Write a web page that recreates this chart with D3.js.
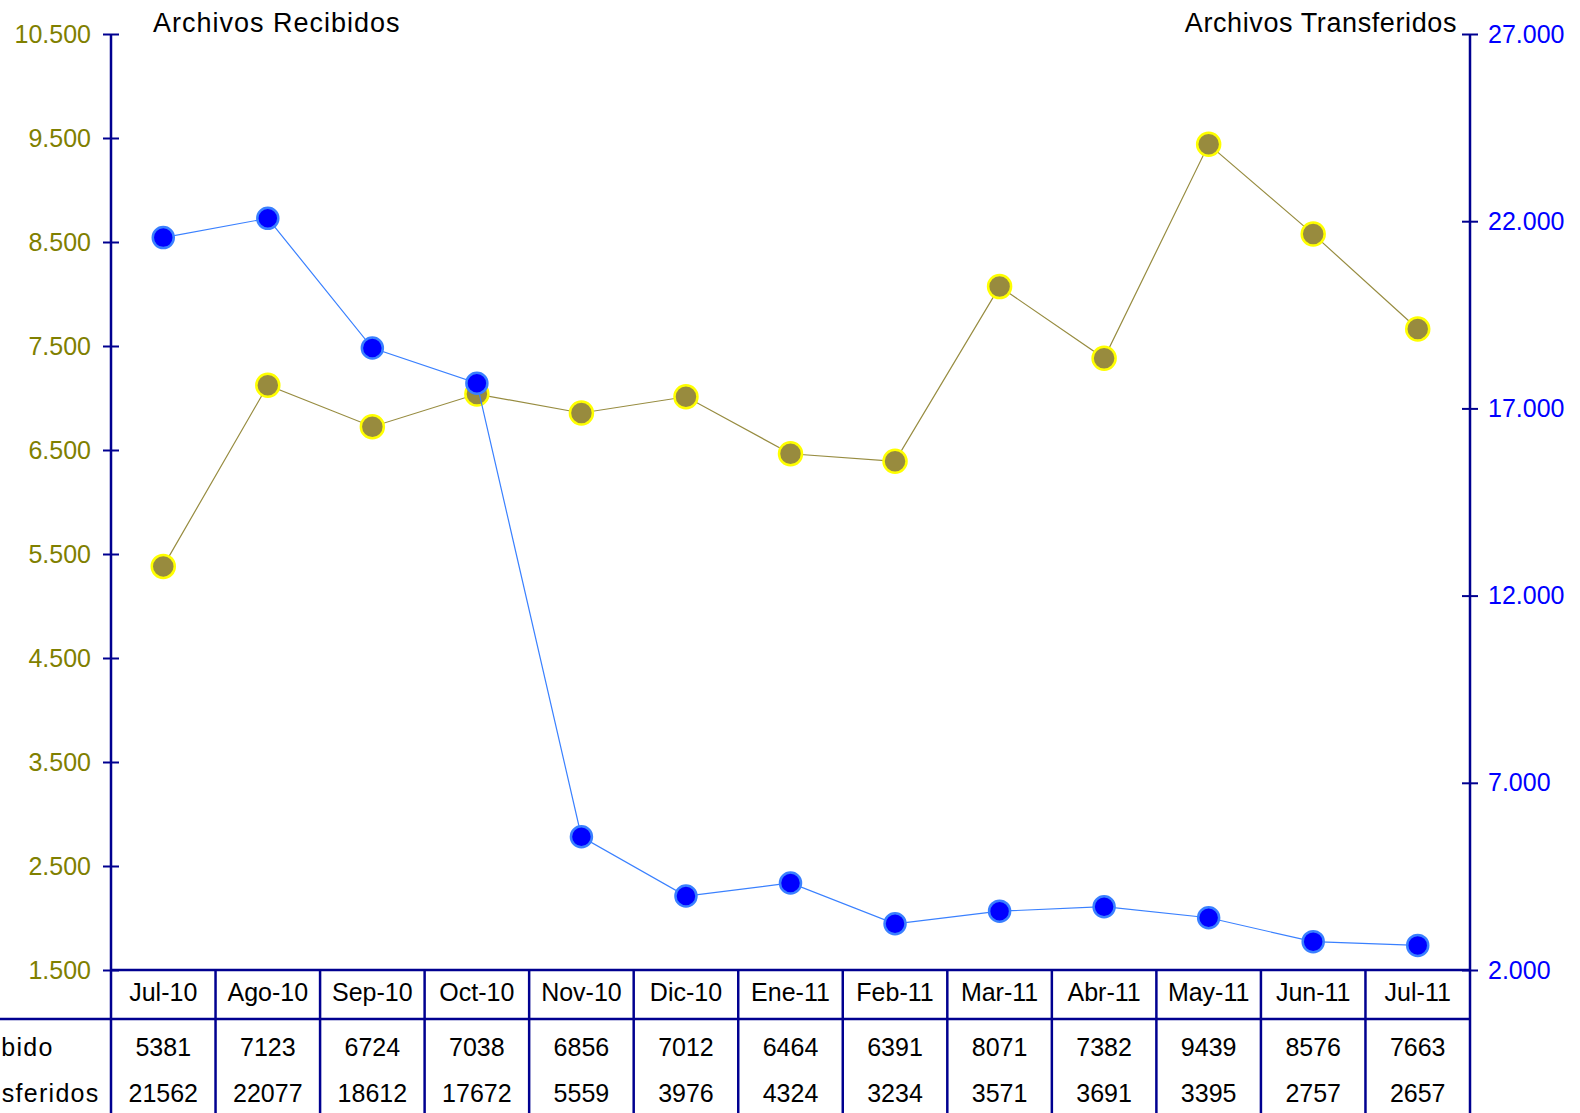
<!DOCTYPE html>
<html>
<head>
<meta charset="utf-8">
<script src="https://cdn.jsdelivr.net/npm/d3@7"></script>
<style>
  body { margin: 0; background: #fff; }
  svg { display: block; font-family: "Liberation Sans", Arial, sans-serif; }
</style>
</head>
<body>
<svg width="1580" height="1113"></svg>
<script>
var svg = d3.select('svg');

const meses = ['Jul-10', 'Ago-10', 'Sep-10', 'Oct-10', 'Nov-10', 'Dic-10', 'Ene-11',
  'Feb-11', 'Mar-11', 'Abr-11', 'May-11', 'Jun-11', 'Jul-11'];
const recibidos = [5381, 7123, 6724, 7038, 6856, 7012, 6464, 6391, 8071, 7382, 9439, 8576, 7663];
const transferidos = [21562, 22077, 18612, 17672, 5559, 3976, 4324, 3234, 3571, 3691, 3395, 2757, 2657];
const ticksIzq = [1500, 2500, 3500, 4500, 5500, 6500, 7500, 8500, 9500, 10500];
const ticksDer = [2000, 7000, 12000, 17000, 22000, 27000];
const filas = ['Recibido', 'Transferidos'];

const axisColor = '#000090';
const xLeft = 111, xRight = 1470, yTop = 34, yBottom = 970;

const fmt = d => d3.format(',')(d).replace(/,/g, '.');

const x = d3.scaleBand().domain(meses).range([xLeft, xRight]);
const yL = d3.scaleLinear().domain([1500, 10500]).range([yBottom, yTop]);
const yR = d3.scaleLinear().domain([2000, 27000]).range([yBottom, yTop]);

// left axis
const gl = svg.append('g').attr('transform', `translate(${xLeft},0)`)
  .call(d3.axisLeft(yL).tickValues(ticksIzq).tickFormat(fmt).tickSize(0).tickPadding(20));
gl.select('.domain').remove();
gl.selectAll('text').attr('fill', '#808000').style('font-size', '25px').attr('font-family', null);
gl.selectAll('.tick').append('line').attr('x1', -8).attr('x2', 8)
  .attr('stroke', axisColor).attr('stroke-width', 2);
svg.append('line').attr('x1', xLeft).attr('x2', xLeft).attr('y1', yTop).attr('y2', 1113)
  .attr('stroke', axisColor).attr('stroke-width', 2.5);

// right axis
const gr = svg.append('g').attr('transform', `translate(${xRight},0)`)
  .call(d3.axisRight(yR).tickValues(ticksDer).tickFormat(fmt).tickSize(0).tickPadding(18));
gr.select('.domain').remove();
gr.selectAll('text').attr('fill', '#0000ff').style('font-size', '25px').attr('font-family', null);
gr.selectAll('.tick').append('line').attr('x1', -8).attr('x2', 8)
  .attr('stroke', axisColor).attr('stroke-width', 2);
svg.append('line').attr('x1', xRight).attr('x2', xRight).attr('y1', yTop).attr('y2', 1113)
  .attr('stroke', axisColor).attr('stroke-width', 2.5);

// table grid
svg.append('line').attr('x1', xLeft).attr('x2', xRight).attr('y1', yBottom).attr('y2', yBottom)
  .attr('stroke', axisColor).attr('stroke-width', 2.5);
svg.append('line').attr('x1', 0).attr('x2', xRight).attr('y1', 1019).attr('y2', 1019)
  .attr('stroke', axisColor).attr('stroke-width', 2.5);
svg.selectAll('.vdiv').data(meses.slice(1)).enter().append('line')
  .attr('x1', d => x(d)).attr('x2', d => x(d))
  .attr('y1', yBottom).attr('y2', 1113)
  .attr('stroke', axisColor).attr('stroke-width', 2.5);

svg.selectAll('.mes').data(meses).enter().append('text')
  .attr('x', d => x(d) + x.bandwidth() / 2).attr('y', 1001)
  .attr('text-anchor', 'middle').style('font-size', '25px').text(d => d);
svg.selectAll('.rec').data(recibidos).enter().append('text')
  .attr('x', (d, i) => x(meses[i]) + x.bandwidth() / 2).attr('y', 1056)
  .attr('text-anchor', 'middle').style('font-size', '25px').text(d => d);
svg.selectAll('.tra').data(transferidos).enter().append('text')
  .attr('x', (d, i) => x(meses[i]) + x.bandwidth() / 2).attr('y', 1102)
  .attr('text-anchor', 'middle').style('font-size', '25px').text(d => d);
// row labels start left of the visible area, as in the original
svg.selectAll('.fila').data(filas).enter().append('text')
  .attr('x', -54).attr('y', (d, i) => i == 0 ? 1056 : 1102)
  .style('font-size', '25px').style('letter-spacing', '1.3px').text(d => d);

// titles
svg.append('text').attr('x', 153).attr('y', 32).style('font-size', '27px')
  .style('letter-spacing', '1px').text('Archivos Recibidos');
svg.append('text').attr('x', 1457).attr('y', 32).attr('text-anchor', 'end')
  .style('font-size', '27px').style('letter-spacing', '0.6px').text('Archivos Transferidos');

const cx = i => x(meses[i]) + x.bandwidth() / 2;

// recibidos series
svg.append('path').datum(recibidos)
  .attr('d', d3.line().x((d, i) => cx(i)).y(d => yL(d)))
  .attr('fill', 'none').attr('stroke', '#978c40').attr('stroke-width', 1.2);
svg.selectAll('.pr').data(recibidos).enter().append('circle')
  .attr('cx', (d, i) => cx(i)).attr('cy', d => yL(d)).attr('r', 11.5)
  .attr('fill', '#988b3e').attr('stroke', '#ffff00').attr('stroke-width', 2.5);

// transferidos series
svg.append('path').datum(transferidos)
  .attr('d', d3.line().x((d, i) => cx(i)).y(d => yR(d)))
  .attr('fill', 'none').attr('stroke', '#3a80ff').attr('stroke-width', 1.2);
svg.selectAll('.pt').data(transferidos).enter().append('circle')
  .attr('cx', (d, i) => cx(i)).attr('cy', d => yR(d)).attr('r', 10.5)
  .attr('fill', '#0000ff').attr('stroke', '#3a80ff').attr('stroke-width', 2.5);
</script>
</body>
</html>
